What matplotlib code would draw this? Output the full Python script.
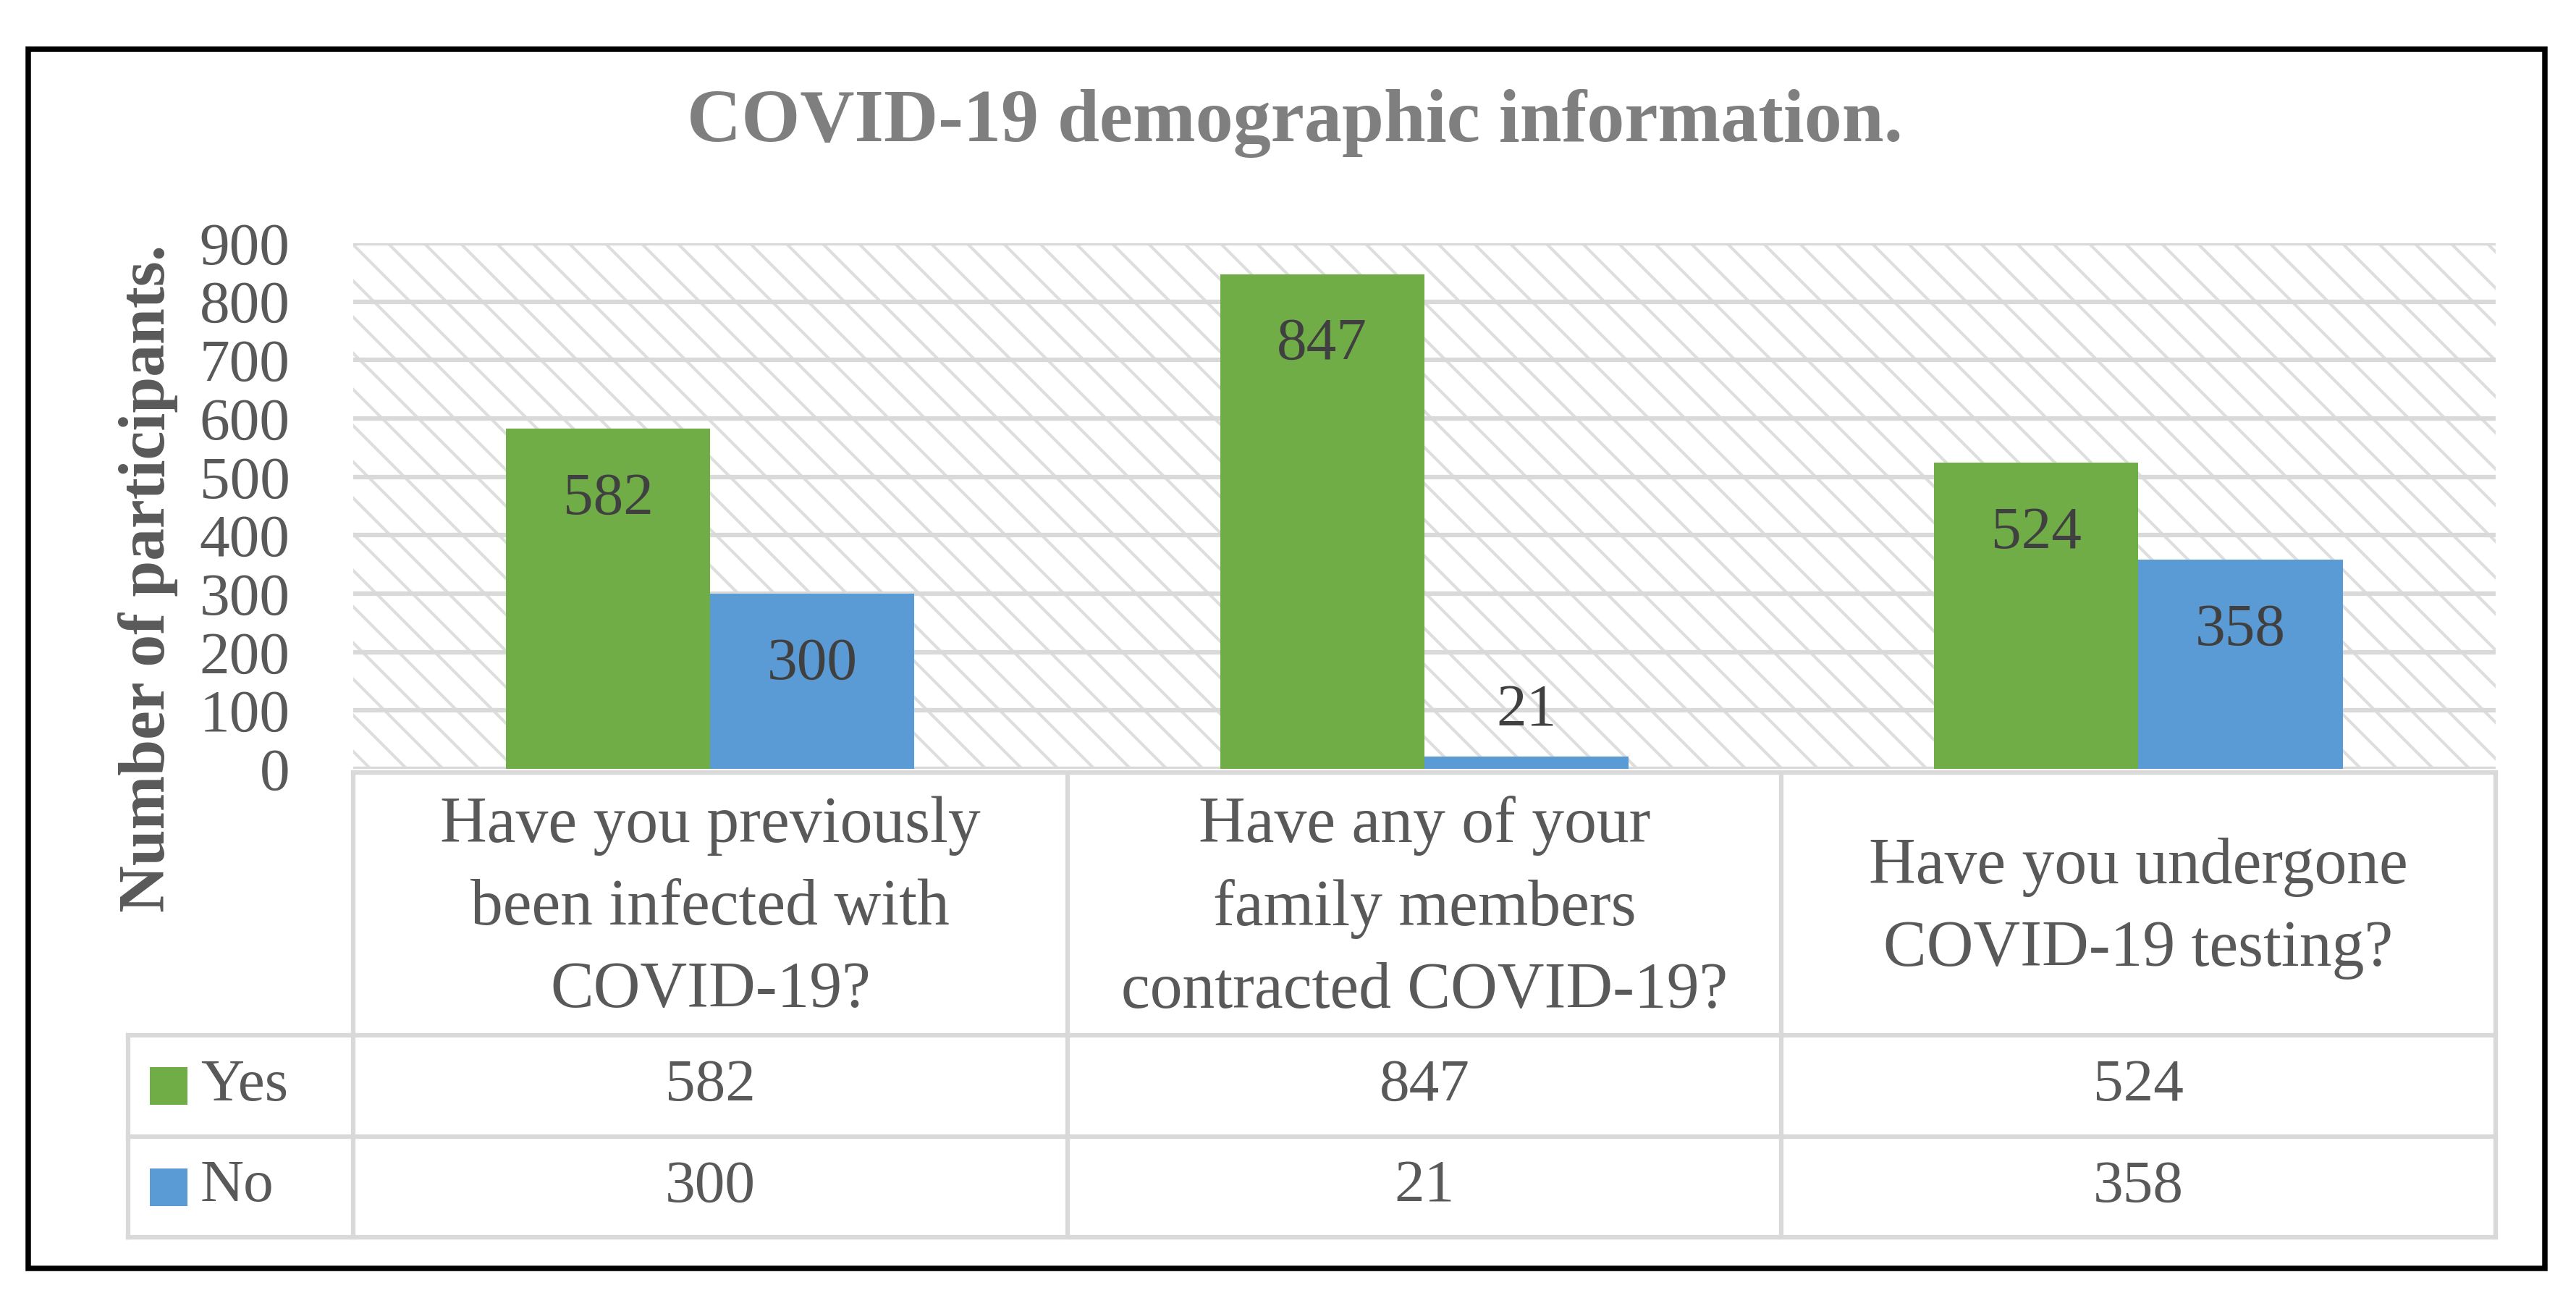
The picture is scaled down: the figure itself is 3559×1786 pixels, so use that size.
import matplotlib
matplotlib.use('Agg')
import matplotlib.pyplot as plt
from matplotlib.patches import Rectangle
import numpy as np

plt.rcParams['font.family'] = ['Liberation Serif', 'DejaVu Serif']
plt.rcParams['hatch.linewidth'] = 2.0

# data
questions = ['Have you previously\nbeen infected with\nCOVID-19?',
             'Have any of your\nfamily members\ncontracted COVID-19?',
             'Have you undergone\nCOVID-19 testing?']
series_names = ['Yes', 'No']
yes_counts = [582, 847, 524]
no_counts = [300, 21, 358]
y_ticks = [0, 100, 200, 300, 400, 500, 600, 700, 800, 900]
colors = ['#70AD47', '#5B9BD5']

# layout grid of the reference (1568 x 787)
W, H = 1568.0, 787.0
def fx(px):
    return px / W
def fy(py):
    return 1 - py / H

fig = plt.figure(figsize=(3559 / 150, 1786 / 150), dpi=150)

# --- bar chart ---
ax = fig.add_axes([fx(215), fy(468), fx(1519) - fx(215), fy(148) - fy(468)])
ax.add_patch(Rectangle((0, 0), 1, 1, transform=ax.transAxes, facecolor='white',
                       edgecolor='#dedede', hatch='\\', lw=0, zorder=0))

x = np.arange(len(questions))
w = 0.286
bars_yes = ax.bar(x - w / 2, yes_counts, w, color=colors[0], zorder=2)
bars_no = ax.bar(x + w / 2, no_counts, w, color=colors[1], zorder=2)

for bars, vals in [(bars_yes, yes_counts), (bars_no, no_counts)]:
    for rect, v in zip(bars, vals):
        off = -47 if v > 100 else 30
        ax.annotate(str(v), (rect.get_x() + rect.get_width() / 2, v),
                    xytext=(0, off), textcoords='offset points',
                    ha='center', va='center', fontsize=40, color='#404040')

ax.set_xlim(-0.5, 2.5)
ax.set_ylim(0, 900)
ax.set_yticks(y_ticks)
ax.set_xticks([])
ax.yaxis.grid(True, color='#d9d9d9', lw=3)
ax.set_axisbelow(True)
ax.tick_params(axis='y', length=0, pad=42, labelsize=40, labelcolor='#595959')
for s in ax.spines.values():
    s.set_visible(False)

# --- data table ---
unit = 434.7  # reference px per category
tab = fig.add_axes([fx(78), fy(753), fx(1519) - fx(78), fy(470) - fy(753)])
x0 = -0.5 - 137 / unit
tab.set_xlim(x0, 2.5)
tab.set_ylim(753, 470)
tab.axis('off')

row_edges = [470, 630, 692, 753]
lc = '#d9d9d9'
lw = 3
# horizontal lines
tab.plot([-0.5, 2.5], [row_edges[0]] * 2, color=lc, lw=lw, clip_on=False)
for yy in row_edges[1:]:
    tab.plot([x0, 2.5], [yy] * 2, color=lc, lw=lw, clip_on=False)
# vertical lines
tab.plot([x0, x0], [row_edges[1], row_edges[3]], color=lc, lw=lw, clip_on=False)
for xx in [-0.5, 0.5, 1.5, 2.5]:
    tab.plot([xx, xx], [row_edges[0], row_edges[3]], color=lc, lw=lw, clip_on=False)

for i, q in enumerate(questions):
    tab.text(i, (row_edges[0] + row_edges[1]) / 2 + 3, q, ha='center', va='center',
             fontsize=43, color='#595959', linespacing=1.5)

for r, (name, vals, c) in enumerate(zip(series_names, [yes_counts, no_counts], colors)):
    yc = (row_edges[r + 1] + row_edges[r + 2]) / 2
    tab.add_patch(Rectangle((x0 + 13 / unit, yc - 11.5), 23 / unit, 23,
                            facecolor=c, edgecolor='none', clip_on=False))
    tab.text(x0 + 44 / unit, yc, name, ha='left', va='center',
             fontsize=40, color='#595959')
    for i, v in enumerate(vals):
        tab.text(i, yc, str(v), ha='center', va='center', fontsize=40, color='#595959')

# --- titles and frame ---
fig.text(fx(90), fy(352), 'Number of participants.', rotation=90, ha='center',
         va='center', fontsize=43, fontweight='bold', color='#595959')
fig.text(fx(788), fy(75), 'COVID-19 demographic information.', ha='center',
         va='center', fontsize=50, fontweight='bold', color='#7f7f7f')
fig.add_artist(Rectangle((fx(17), fy(772)), fx(1549) - fx(17), fy(30) - fy(772),
                         transform=fig.transFigure, fill=False, lw=3.6, ec='black'))

fig.savefig('out.png', dpi=150)
